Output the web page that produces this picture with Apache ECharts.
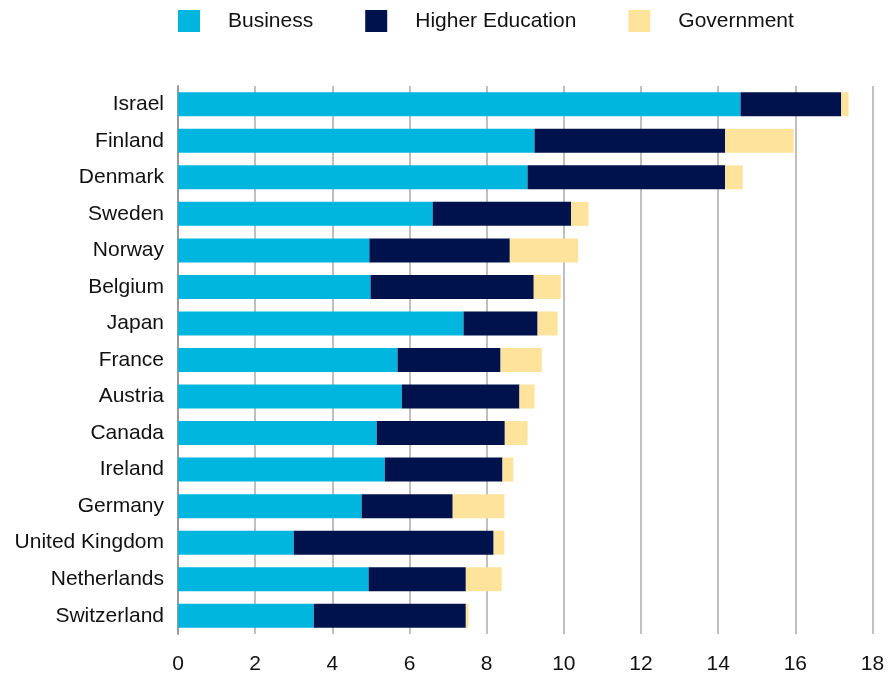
<!DOCTYPE html>
<html>
<head>
<meta charset="utf-8">
<script src="https://cdn.jsdelivr.net/npm/echarts@6/dist/echarts.min.js"></script>
<style>
  html, body { margin: 0; padding: 0; background: #ffffff; }
  #chart { width: 891px; height: 677px; }
</style>
</head>
<body>
<div id="chart"></div>
<script>
// R&D personnel by sector, top to bottom as listed
const countries = ['Israel', 'Finland', 'Denmark', 'Sweden', 'Norway', 'Belgium', 'Japan', 'France',
  'Austria', 'Canada', 'Ireland', 'Germany', 'United Kingdom', 'Netherlands', 'Switzerland'];
const business = [14.58, 9.24, 9.06, 6.60, 4.96, 4.99, 7.40, 5.69, 5.80, 5.15, 5.36, 4.76, 3.00, 4.94, 3.52];
const higherEducation = [2.61, 4.94, 5.12, 3.59, 3.64, 4.23, 1.92, 2.67, 3.05, 3.32, 3.05, 2.36, 5.18, 2.52, 3.94];
const government = [0.19, 1.78, 0.46, 0.45, 1.77, 0.70, 0.52, 1.07, 0.39, 0.59, 0.28, 1.34, 0.28, 0.93, 0.07];
const xTicks = [0, 2, 4, 6, 8, 10, 12, 14, 16, 18];

const font = 'Liberation Sans, Arial, Helvetica, sans-serif';

const chart = echarts.init(document.getElementById('chart'), null, { renderer: 'canvas' });

function bar(name, data, color) {
  return {
    name: name,
    type: 'bar',
    stack: 'total',
    data: data,
    barWidth: 24,
    itemStyle: { color: color },
    emphasis: { disabled: true }
  };
}

chart.setOption({
  animation: false,
  textStyle: { fontFamily: font },
  legend: {
    top: 5,
    left: 173,
    itemWidth: 22,
    itemHeight: 22,
    itemGap: 52,
    icon: 'rect',
    textStyle: { fontSize: 21, color: '#111', padding: [0, 0, 0, 23], fontFamily: font },
    data: ['Business', 'Higher Education', 'Government']
  },
  grid: { left: 178, right: 18.5, top: 86, bottom: 43, containLabel: false },
  xAxis: {
    type: 'value',
    min: xTicks[0],
    max: xTicks[xTicks.length - 1],
    interval: 2,
    axisLine: { show: false },
    axisTick: { show: false },
    axisLabel: { fontSize: 21, color: '#111', margin: 20, fontFamily: font },
    splitLine: { show: true, lineStyle: { color: '#aaa', width: 1.5 } }
  },
  yAxis: {
    type: 'category',
    data: countries,
    inverse: true,
    axisLine: { show: true, lineStyle: { color: '#999', width: 2 } },
    axisTick: { show: false },
    axisLabel: { fontSize: 21, color: '#111', margin: 14, fontFamily: font }
  },
  series: [
    bar('Business', business, '#00b5de'),
    bar('Higher Education', higherEducation, '#00124c'),
    bar('Government', government, '#fde39c')
  ]
});
</script>
</body>
</html>
